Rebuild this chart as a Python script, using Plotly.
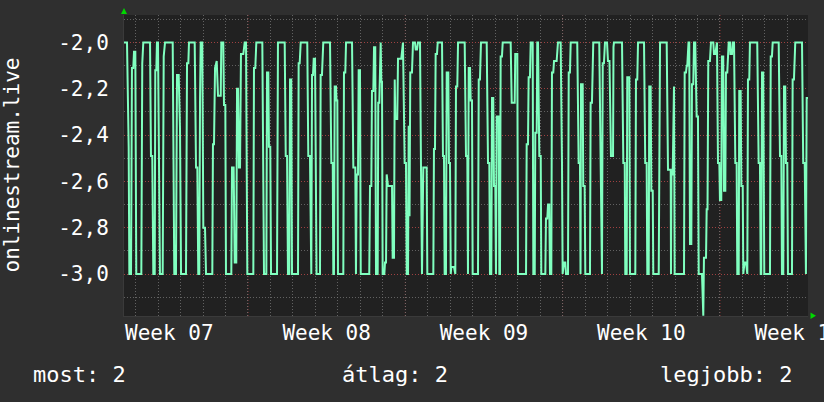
import pandas as pd
import plotly.graph_objects as go

# ---- data ----
series_name = "onlinestream.live"
base_date = "2024-02-12 00:00"          # Monday of ISO week 07
x_range_hours = [35.6, 766.0]

week_starts = ["2024-02-12", "2024-02-19", "2024-02-26", "2024-03-04", "2024-03-11"]
week_labels = ["Week 07", "Week 08", "Week 09", "Week 10", "Week 11"]

hours = [
    35.6, 38.8, 40.6, 41.3, 43.1, 44.1, 45.5, 46.3, 47.7, 48.7, 54.1, 55.1, 56.2, 63.4, 64.4, 65.8, 66.9, 68.4, 69.0, 70.1,
    70.8, 71.9, 74.0, 76.9, 78.0, 79.4, 87.6, 89.3, 91.1, 92.2, 94.0, 95.4, 96.5, 101.8, 102.9, 104.3, 105.0, 111.1, 112.5, 113.9,
    114.9, 116.0, 116.8, 117.5, 119.2, 120.3, 122.1, 123.2, 129.9, 130.6, 131.7, 132.8, 134.6, 136.0,
    138.9, 139.5, 141.6, 142.4, 143.8, 144.5, 150.2, 150.9, 152.7, 153.8, 155.5, 156.3, 157.3, 158.4, 159.5, 160.5, 163.0, 164.5,
    165.9, 167.3, 173.7, 174.4, 175.8, 176.9, 183.3, 184.3, 185.1, 187.6, 188.3, 189.7, 190.4, 191.8, 192.6, 199.0, 200.0, 207.2,
    208.3, 209.7, 210.7, 212.1, 212.9, 214.2, 215.0, 221.4, 222.1, 223.2, 224.3, 231.3, 232.4, 234.2, 235.0, 235.6, 236.4, 237.4,
    238.2, 239.6, 241.2,
    244.9, 245.6, 247.0, 248.4, 255.6, 257.0, 258.5, 259.1, 259.8, 260.6, 262.0, 262.5, 263.4, 264.1, 269.8, 270.5, 271.9, 272.7,
    279.1, 280.5, 282.6, 283.3, 284.1, 285.5, 286.2, 287.6, 288.4, 297.5, 298.3, 299.7, 300.4, 301.8, 302.6, 303.9, 304.7, 306.5,
    307.1, 308.2, 309.0, 309.7, 310.4, 311.1, 311.8, 313.6, 314.3, 315.4, 316.1, 317.5, 321.8, 322.5, 323.9, 324.7, 325.3, 327.4,
    328.2, 331.7, 333.5, 335.3, 336.7, 337.5, 338.9, 339.6, 340.5, 341.3, 343.1, 344.2,
    346.3, 347.1, 348.5, 349.5, 351.7, 352.7, 353.8, 355.2, 358.8, 359.5, 365.9, 366.6, 367.7, 368.4, 369.8, 370.6, 375.2, 376.2,
    377.3, 378.0, 379.4, 380.2, 381.9, 382.6, 383.7, 384.5, 385.1, 388.0, 388.7, 389.4, 390.1, 391.5, 392.3, 399.4, 400.8, 402.2,
    402.9, 403.7, 405.1, 405.8, 407.2, 407.9, 413.6, 414.4, 415.7, 416.8, 422.9, 424.3, 425.7, 426.4, 427.8, 428.6, 429.9, 430.7,
    432.1, 432.8, 433.6, 435.7, 436.4, 437.1, 437.8, 439.2, 440.0, 448.5, 449.6,
    452.8, 453.4, 455.6, 456.3, 464.9, 465.6, 467.0, 467.7, 469.1, 469.9, 472.0, 472.7, 474.2, 474.8, 476.3, 476.9, 477.7, 479.1,
    480.6, 481.2, 485.5, 486.2, 487.6, 488.4, 489.7, 490.5, 491.9, 492.6, 494.0, 494.8, 497.6, 499.0, 501.9, 503.3, 504.0, 505.4,
    506.8, 507.6, 509.7, 510.5, 511.8, 512.6, 519.6, 521.1, 522.5, 523.1, 523.6, 525.4, 526.0, 527.5, 528.2, 533.2, 533.9, 535.3,
    536.7, 543.1, 546.0, 546.8, 548.1, 549.2, 551.4, 552.4, 554.0,
    555.6, 557.8, 558.3, 558.8, 567.4, 568.8, 570.3, 570.9, 572.4, 573.0, 575.2, 575.9, 581.6, 582.3, 583.7, 584.5, 590.9, 592.2,
    593.7, 594.4, 595.9, 596.5, 598.0, 598.7, 600.2, 600.8, 606.6, 607.2, 608.0, 615.1, 616.5, 619.4, 619.7, 620.2, 621.5, 622.1,
    622.9, 623.6, 633.6, 634.3, 635.7, 636.5, 637.1, 638.4, 639.2, 640.0, 641.4, 642.1, 643.5, 644.3, 645.6, 647.1, 648.5, 649.3,
    652.8, 654.2, 654.9, 657.1, 657.8, 658.7, 659.5,
    661.3, 662.4, 664.9, 665.6, 667.0, 668.1, 668.8, 669.9, 671.3, 672.0, 673.4, 674.1, 675.5, 676.3, 677.7, 678.4, 679.8, 681.3,
    682.7, 683.2, 684.8, 685.6, 687.0, 688.4, 689.8, 690.5, 692.0, 692.6, 694.1, 694.8, 696.3, 696.9, 698.2, 699.8, 700.5, 701.2,
    701.9, 703.3, 704.0, 711.8, 713.3, 714.7, 715.5, 716.1, 716.9, 718.2, 718.7, 719.3, 725.4, 726.2, 727.5, 728.3, 734.7, 736.1,
    737.5, 738.2, 739.6, 740.4, 741.7, 742.5, 743.9, 744.6, 748.9, 749.6, 751.0, 752.4, 759.6, 760.9, 762.5, 763.1, 763.8, 764.6,
    766.5,
]

values = [
    -2.00, -2.00, -2.45, -3.00, -3.00, -2.11, -2.11, -2.04, -2.04, -3.00, -3.00, -2.09, -2.00, -2.00, -2.49, -2.49, -3.00, -3.00, -2.12, -2.12,
    -2.00, -2.00, -3.00, -3.00, -2.06, -2.00, -2.00, -3.00, -3.00, -2.14, -2.14, -2.37, -3.00, -3.00, -2.09, -2.09, -2.00, -2.00, -2.54, -2.54,
    -3.00, -3.00, -2.24, -2.00, -2.00, -2.80, -2.80, -3.00, -3.00, -2.44, -2.44, -2.11, -2.08, -2.23,
    -2.23, -2.00, -2.00, -2.27, -2.27, -3.00, -3.00, -2.54, -2.54, -2.95, -2.95, -2.20, -2.20, -2.54, -2.54, -2.05, -2.05, -2.00,
    -2.00, -3.00, -3.00, -2.11, -2.11, -2.00, -2.00, -2.54, -3.00, -3.00, -2.13, -2.13, -2.45, -2.45, -3.00, -3.00, -2.00, -2.00,
    -2.49, -2.49, -3.00, -3.00, -2.16, -2.16, -3.00, -3.00, -2.09, -2.09, -2.00, -2.00, -2.49, -2.49, -3.00, -3.00, -2.14, -2.14,
    -2.07, -2.07, -3.00,
    -3.00, -2.14, -2.14, -2.00, -2.00, -2.52, -2.52, -3.00, -3.00, -2.19, -2.19, -2.25, -2.25, -3.00, -3.00, -2.13, -2.13, -2.00,
    -2.00, -2.54, -2.54, -3.00, -2.57, -2.57, -2.12, -2.12, -3.00, -3.00, -2.62, -2.62, -2.21, -2.21, -2.02, -2.02, -3.00, -3.00,
    -2.26, -2.26, -2.00, -2.00, -2.17, -2.17, -3.00, -3.00, -2.95, -2.95, -2.57, -2.62, -2.62, -2.93, -2.93, -2.16, -2.33, -2.33,
    -2.07, -2.07, -2.00, -2.52, -2.52, -3.00, -3.00, -2.36, -2.75, -2.13, -2.13, -2.00,
    -2.00, -2.03, -2.03, -2.00, -2.00, -2.52, -3.00, -2.54, -2.54, -3.00, -3.00, -2.46, -2.46, -2.05, -2.05, -2.00, -2.00, -2.49,
    -2.49, -3.00, -3.00, -2.13, -2.13, -2.52, -2.52, -3.00, -2.97, -2.97, -3.00, -3.00, -2.19, -2.19, -2.00, -2.00, -2.49, -2.49,
    -3.00, -2.11, -2.11, -2.25, -2.25, -3.00, -3.00, -2.16, -2.16, -2.00, -2.00, -2.52, -2.52, -3.00, -3.00, -2.24, -2.24, -2.62,
    -2.62, -3.00, -2.32, -2.32, -3.00, -3.00, -2.06, -2.06, -2.00, -2.00, -2.26,
    -2.26, -2.05, -2.05, -3.00, -3.00, -2.44, -2.44, -2.15, -2.15, -2.00, -2.00, -3.00, -3.00, -2.39, -2.39, -2.00, -2.00, -2.49,
    -2.49, -3.00, -3.00, -2.76, -2.76, -2.70, -2.70, -3.00, -3.00, -2.13, -2.13, -2.08, -2.08, -2.00, -2.00, -2.52, -3.00, -2.95,
    -2.95, -3.00, -3.00, -2.13, -2.13, -2.00, -2.00, -2.52, -2.52, -3.00, -2.18, -2.18, -2.62, -2.62, -3.00, -3.00, -2.26, -2.26,
    -2.00, -2.00, -3.00, -2.09, -2.09, -2.00, -2.00, -2.08, -2.08,
    -2.49, -2.49, -2.02, -2.00, -2.00, -2.52, -2.52, -3.00, -3.00, -2.15, -2.15, -3.00, -3.00, -2.16, -2.16, -2.00, -2.00, -2.52,
    -2.52, -3.00, -3.00, -2.19, -2.19, -2.64, -2.64, -3.00, -3.00, -2.09, -2.00, -2.00, -2.55, -2.55, -3.00, -2.57, -2.57, -2.19,
    -2.19, -3.00, -3.00, -2.13, -2.13, -2.10, -2.10, -2.00, -2.00, -2.87, -2.87, -2.18, -2.18, -2.00, -2.00, -2.32, -2.32, -3.00,
    -3.00, -3.18, -2.93, -2.93, -2.72, -2.72, -2.08,
    -2.08, -2.00, -2.00, -2.05, -2.05, -2.00, -2.00, -2.52, -2.52, -2.68, -2.68, -2.06, -2.06, -2.64, -2.64, -2.13, -2.13, -2.00,
    -2.00, -2.05, -2.05, -2.00, -2.00, -2.52, -2.52, -3.00, -3.00, -2.21, -2.21, -2.62, -2.62, -3.00, -2.95, -2.95, -3.00, -3.00,
    -2.16, -2.16, -2.00, -2.00, -2.52, -2.52, -3.00, -3.00, -2.13, -2.13, -2.52, -3.00, -3.00, -2.06, -2.06, -2.00, -2.00, -2.49,
    -2.49, -3.00, -3.00, -2.19, -2.19, -2.52, -2.52, -3.00, -3.00, -2.16, -2.16, -2.00, -2.00, -2.52, -2.52, -3.00, -3.00, -2.24,
    -2.24,
]

y_range = [-3.1814, -1.8812]
y_tick_values = [-3.0, -2.8, -2.6, -2.4, -2.2, -2.0]
y_tick_labels = ["-3,0", "-2,8", "-2,6", "-2,4", "-2,2", "-2,0"]

legend_names = ["most", "átlag", "legjobb"]
legend_values = [2, 2, 2]

# ---- styling ----
FONT = "DejaVu Sans Mono"
PAPER = "#2f2f2f"
PLOT = "#212121"
LINE = "#80ffbf"
MAJOR = "rgba(170,60,60,0.85)"
MINOR = "rgba(120,120,120,0.75)"
ARROW = "#00d800"
DOT = "1px,2px"

base = pd.Timestamp(base_date)
times = base + pd.to_timedelta(hours, unit="h")
x_range = [base + pd.Timedelta(hours=h) for h in x_range_hours]
week_start_ts = pd.to_datetime(week_starts)
week_mid_ts = week_start_ts + pd.Timedelta(hours=84)   # label centred in its week

fig = go.Figure()
fig.add_trace(go.Scatter(
    x=times, y=values, mode="lines", name=series_name,
    line=dict(color=LINE, width=2), hoverinfo="skip",
))

fig.update_layout(
    width=824, height=402,
    margin=dict(l=124, r=16, t=15, b=86),
    paper_bgcolor=PAPER, plot_bgcolor=PLOT,
    showlegend=False,
    font=dict(family=FONT, size=21, color="#ffffff"),
    xaxis=dict(
        type="date", range=x_range, automargin=False,
        tickmode="array", tickvals=week_mid_ts, ticktext=week_labels,
        ticklabeloverflow="allow",
        showgrid=False,
        minor=dict(tickmode="linear", tick0=base_date, dtick=24 * 3600 * 1000,
                   showgrid=True, gridcolor=MINOR, gridwidth=1, griddash=DOT),
        zeroline=False, showline=True, linecolor="#3a3a3a", linewidth=1,
        ticks="", ticklabelstandoff=-2,
        tickfont=dict(family=FONT, size=21, color="#ffffff"),
    ),
    yaxis=dict(
        range=y_range, automargin=False,
        tickmode="array", tickvals=y_tick_values, ticktext=y_tick_labels,
        showgrid=True, gridcolor=MAJOR, gridwidth=1, griddash=DOT,
        minor=dict(dtick=0.1, tick0=0, showgrid=True, gridcolor=MINOR,
                   gridwidth=1, griddash=DOT),
        zeroline=False, showline=True, linecolor="#3a3a3a", linewidth=1,
        ticks="", ticklabelstandoff=10,
        tickfont=dict(family=FONT, size=21, color="#ffffff"),
    ),
)

# weekly (major) grid lines at week boundaries
for ws in week_start_ts:
    if x_range[0] < ws < x_range[1]:
        fig.add_vline(x=ws, line=dict(color=MAJOR, width=1, dash=DOT), layer="below")

# rotated series title
fig.add_annotation(
    text=series_name, xref="paper", yref="paper", x=-0.1652, y=0.5,
    xanchor="center", yanchor="middle", textangle=-90, showarrow=False,
    font=dict(family=FONT, size=21, color="#ffffff"),
)

# GPRINT-style legend line
legend_pos = [(-0.136, "left"), (0.3158, "left"), (0.9795, "right")]
for (name, val), (px, anchor) in zip(zip(legend_names, legend_values), legend_pos):
    fig.add_annotation(
        text=f"{name}: {val}", xref="paper", yref="paper", x=px, y=-0.1953,
        xanchor=anchor, yanchor="middle", showarrow=False,
        font=dict(family=FONT, size=22, color="#ffffff"),
    )

# axis arrows
fig.add_shape(type="path", xref="paper", yref="paper",
              path="M -0.0044,1.003 L 0.0044,1.003 L 0,1.0233 Z",
              fillcolor=ARROW, line=dict(width=0))
fig.add_shape(type="path", xref="paper", yref="paper",
              path="M 1.0037,0.0116 L 1.0037,-0.0100 L 1.0117,0.0008 Z",
              fillcolor=ARROW, line=dict(width=0))

fig.write_html("out.html", config={"displayModeBar": False},
               post_script="document.body.style.margin='0px';")
